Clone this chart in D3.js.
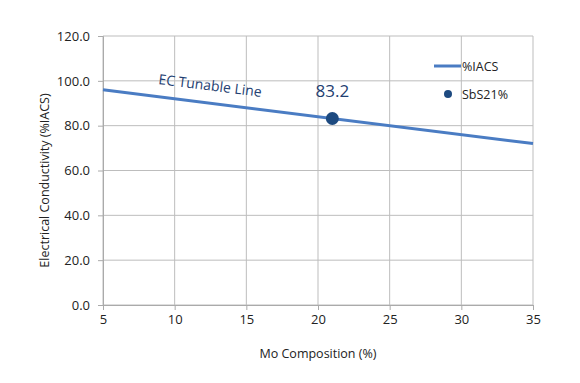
<!DOCTYPE html>
<html><head><meta charset="utf-8">
<script src="https://cdn.jsdelivr.net/npm/d3@7"></script>
<style>body{margin:0;background:#fff}svg text{font-family:"Open Sans","Noto Sans",sans-serif}</style>
</head><body><svg id="c" width="580" height="383"></svg>
<script>
const lineX = [5, 35];
const lineY = [96, 72];
const pointX = [21];
const pointY = [83.2];
const xTicks = [5, 10, 15, 20, 25, 30, 35];
const yTicks = [0, 20, 40, 60, 80, 100, 120];
const seriesNames = ["%IACS", "SbS21%"];

const svg = d3.select("#c");
const x = d3.scaleLinear().domain([5, 35]).range([103, 533]);
const y = d3.scaleLinear().domain([0, 120]).range([305, 36]);
const grid = "#bdbdbd";

const g = svg.append("g");
// gridlines
g.selectAll(".vg").data(xTicks).enter().append("line")
  .attr("x1", d => x(d)).attr("x2", d => x(d)).attr("y1", y(0)).attr("y2", y(120))
  .attr("stroke", grid).attr("stroke-width", 1);
g.selectAll(".hg").data(yTicks).enter().append("line")
  .attr("x1", x(5)).attr("x2", x(35)).attr("y1", d => y(d)).attr("y2", d => y(d))
  .attr("stroke", grid).attr("stroke-width", 1);

// axes
const xa = svg.append("g").attr("transform", `translate(0,${y(0)})`)
  .call(d3.axisBottom(x).tickValues(xTicks).tickSize(5).tickPadding(5).tickFormat(d3.format("d")));
const ya = svg.append("g").attr("transform", `translate(${x(5)},0)`)
  .call(d3.axisLeft(y).tickValues(yTicks).tickSize(5).tickPadding(8).tickFormat(d3.format(".1f")));
[xa, ya].forEach(a => {
  a.selectAll("path,line").attr("stroke", "#aaa");
  a.selectAll("text").attr("fill", "#222").style("font-size", "13px");
});

// line
const pts = lineX.map((d, i) => [d, lineY[i]]);
svg.append("path").datum(pts)
  .attr("d", d3.line().x(d => x(d[0])).y(d => y(d[1])))
  .attr("fill", "none").attr("stroke", "#4a7cc3").attr("stroke-width", 3);

// point
svg.selectAll(".pt").data(pointX).enter().append("circle")
  .attr("cx", d => x(d)).attr("cy", (d, i) => y(pointY[i])).attr("r", 6.5)
  .attr("fill", "#1d4a80");
svg.selectAll(".pl").data(pointX).enter().append("text")
  .attr("x", d => x(d)).attr("y", (d, i) => y(pointY[i]) - 21)
  .attr("text-anchor", "middle").attr("fill", "#1f3f72").style("font-size", "17px")
  .text((d, i) => pointY[i].toFixed(1));

// rotated line label
const ang = Math.atan2(y(lineY[1]) - y(lineY[0]), x(lineX[1]) - x(lineX[0])) * 180 / Math.PI;
svg.append("text")
  .attr("transform", `translate(158,84) rotate(${ang})`)
  .attr("fill", "#1f3f72").style("font-size", "14px")
  .text("EC Tunable Line");

// legend
const lg = svg.append("g");
lg.append("line").attr("x1", 434).attr("x2", 461).attr("y1", 66).attr("y2", 66)
  .attr("stroke", "#4a7cc3").attr("stroke-width", 3);
lg.append("text").attr("x", 462).attr("y", 71).attr("fill", "#222").style("font-size", "12.5px").text(seriesNames[0]);
lg.append("circle").attr("cx", 448).attr("cy", 94).attr("r", 4).attr("fill", "#1d4a80");
lg.append("text").attr("x", 462).attr("y", 99).attr("fill", "#222").style("font-size", "12.5px").text(seriesNames[1]);

// titles
svg.append("text").attr("x", 318).attr("y", 358).attr("text-anchor", "middle")
  .attr("fill", "#222").style("font-size", "12.5px").text("Mo Composition (%)");
svg.append("text").attr("transform", `translate(49,${(y(0)+y(120))/2+10}) rotate(-90)`)
  .attr("text-anchor", "middle").attr("fill", "#222").style("font-size", "12.5px")
  .text("Electrical Conductivity  (%IACS)");
</script></body></html>
